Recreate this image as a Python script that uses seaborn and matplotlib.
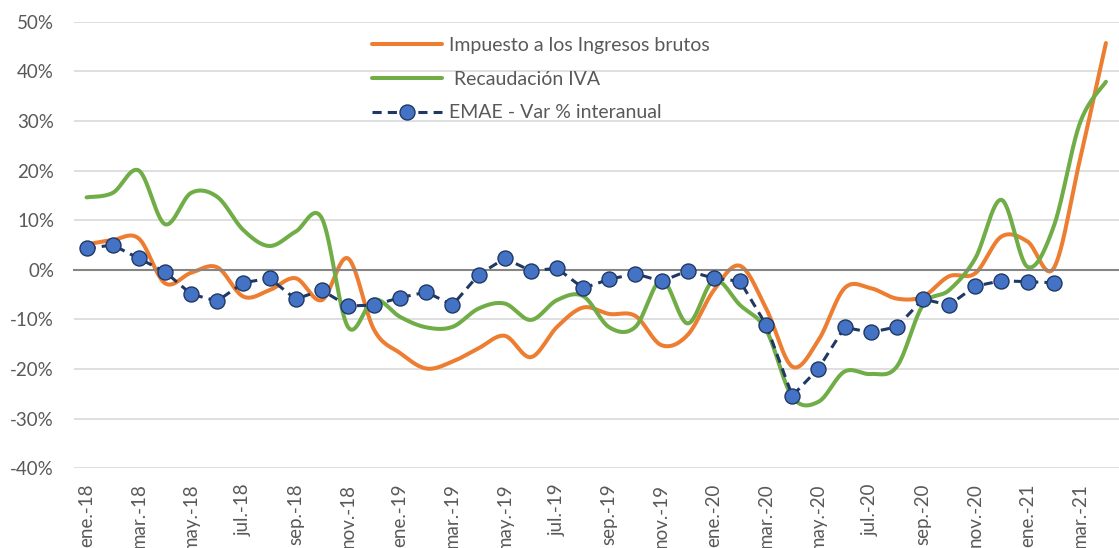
import numpy as np
import matplotlib
matplotlib.use("Agg")
import matplotlib.pyplot as plt
import seaborn as sns
from matplotlib.ticker import FuncFormatter

# Meses: ene-18 .. abr-21
meses = ["ene.-18", "feb.-18", "mar.-18", "abr.-18", "may.-18", "jun.-18", "jul.-18", "ago.-18",
         "sep.-18", "oct.-18", "nov.-18", "dic.-18",
         "ene.-19", "feb.-19", "mar.-19", "abr.-19", "may.-19", "jun.-19", "jul.-19", "ago.-19",
         "sep.-19", "oct.-19", "nov.-19", "dic.-19",
         "ene.-20", "feb.-20", "mar.-20", "abr.-20", "may.-20", "jun.-20", "jul.-20", "ago.-20",
         "sep.-20", "oct.-20", "nov.-20", "dic.-20",
         "ene.-21", "feb.-21", "mar.-21", "abr.-21"]

# Variacion % interanual
iibb = [5.1, 6.0, 6.3, -2.7, -0.6, 0.5, -5.4, -4.1, -1.7, -6.1, 2.3, -12.1,
        -16.8, -19.9, -18.5, -15.8, -13.3, -17.6, -11.5, -7.6, -8.9, -9.3, -15.2, -13.1,
        -4.1, 0.8, -7.8, -19.5, -14.2, -3.7, -3.7, -5.8, -5.4, -1.3, -0.7, 6.7,
        5.7, 0.3, 22.1, 45.7]
iva = [14.6, 15.5, 20.0, 9.2, 15.5, 14.7, 8.0, 4.8, 7.7, 10.4, -11.5, -6.0,
       -9.5, -11.6, -11.5, -7.8, -6.8, -10.1, -6.1, -5.3, -11.6, -11.5, -2.1, -10.8,
       -2.1, -7.1, -12.1, -25.6, -26.6, -20.5, -21.0, -19.5, -7.1, -4.1, 2.3, 14.1,
       0.6, 8.7, 29.5, 37.9]
emae = [4.3, 5.0, 2.3, -0.4, -4.9, -6.3, -2.6, -1.7, -5.9, -4.1, -7.3, -7.1,
        -5.6, -4.5, -7.1, -1.0, 2.3, -0.2, 0.3, -3.7, -1.9, -0.8, -2.3, -0.2,
        -1.7, -2.3, -11.1, -25.4, -19.9, -11.6, -12.6, -11.5, -5.9, -7.1, -3.3, -2.2,
        -2.4, -2.6]

etiquetas = meses[::2]


def suavizar(x, y, pasos=30):
    # curva suavizada tipo Excel (Bezier / Catmull-Rom)
    x = np.asarray(x, float)
    y = np.asarray(y, float)
    px = np.r_[x[0], x, x[-1]]
    py = np.r_[y[0], y, y[-1]]
    t = np.linspace(0, 1, pasos, endpoint=False)[:, None]
    out = []
    for i in range(1, len(x)):
        p0 = np.array([px[i - 1], py[i - 1]])
        p1 = np.array([px[i], py[i]])
        p2 = np.array([px[i + 1], py[i + 1]])
        p3 = np.array([px[i + 2], py[i + 2]])
        c1 = p1 + (p2 - p0) / 6
        c2 = p2 - (p3 - p1) / 6
        seg = ((1 - t) ** 3) * p1 + 3 * ((1 - t) ** 2) * t * c1 + 3 * (1 - t) * t ** 2 * c2 + t ** 3 * p2
        out.append(seg)
    out.append(np.array([[x[-1], y[-1]]]))
    out = np.vstack(out)
    return out[:, 0], out[:, 1]


sns.set_style("white")
plt.rcParams["font.family"] = ["Lato", "DejaVu Sans"]

gris = "#595959"
fig = plt.figure(figsize=(11.19, 5.48), dpi=100)
ax = fig.add_axes([73.5 / 1119, 1 - 468.3 / 548, (1119 - 73.5) / 1119, (468.3 - 21.7) / 548])

xs, ys = suavizar(np.arange(len(iibb)), iibb)
sns.lineplot(x=xs, y=ys, sort=False, color="#ED7D31", lw=2.9, ax=ax,
             label="Impuesto a los Ingresos brutos")
xs, ys = suavizar(np.arange(len(iva)), iva)
sns.lineplot(x=xs, y=ys, sort=False, color="#70AD47", lw=2.9, ax=ax,
             label=" Recaudación IVA")
ax.plot(np.arange(len(emae)), emae, color="#1F3864", lw=2.2, dashes=(3, 2),
        marker="o", markersize=10.8, markerfacecolor="#4472C4",
        markeredgecolor="#1F3864", markeredgewidth=1.0,
        label="EMAE - Var % interanual", zorder=5)

ax.set_ylim(-40, 50)
ax.set_xlim(-0.5, 39.16)
ax.set_yticks(np.arange(-40, 51, 10))
ax.yaxis.set_major_formatter(FuncFormatter(lambda v, p: f"{v:.0f}%"))
ax.yaxis.grid(True, color="#D9D9D9", lw=1.2)
ax.set_axisbelow(True)
ax.tick_params(axis="y", length=0, pad=14, labelsize=13.5, labelcolor=gris)

for s in ["top", "right", "left"]:
    ax.spines[s].set_visible(False)
ax.spines["bottom"].set_position(("data", 0))
ax.spines["bottom"].set_color("#868686")
ax.spines["bottom"].set_linewidth(1.5)
ax.set_xticks(np.arange(-0.5, 40, 2))
ax.set_xticklabels([])
ax.tick_params(axis="x", length=5, width=1.2, color="#868686", direction="out")

sec = ax.secondary_xaxis(0)
sec.set_xticks(np.arange(0, 40, 2))
sec.set_xticklabels(etiquetas, rotation=90, va="top", ha="center")
sec.tick_params(length=0, pad=11, labelsize=13.5, labelcolor=gris)
sec.spines["bottom"].set_visible(False)

ax.legend(loc="upper left", bbox_to_anchor=(283 / 1045.5, 1.0), frameon=False,
          fontsize=14, labelcolor=gris, handlelength=3.6, handletextpad=0.35,
          labelspacing=0.85, numpoints=1, borderaxespad=0.4)

fig.savefig("out.png", dpi=100)
